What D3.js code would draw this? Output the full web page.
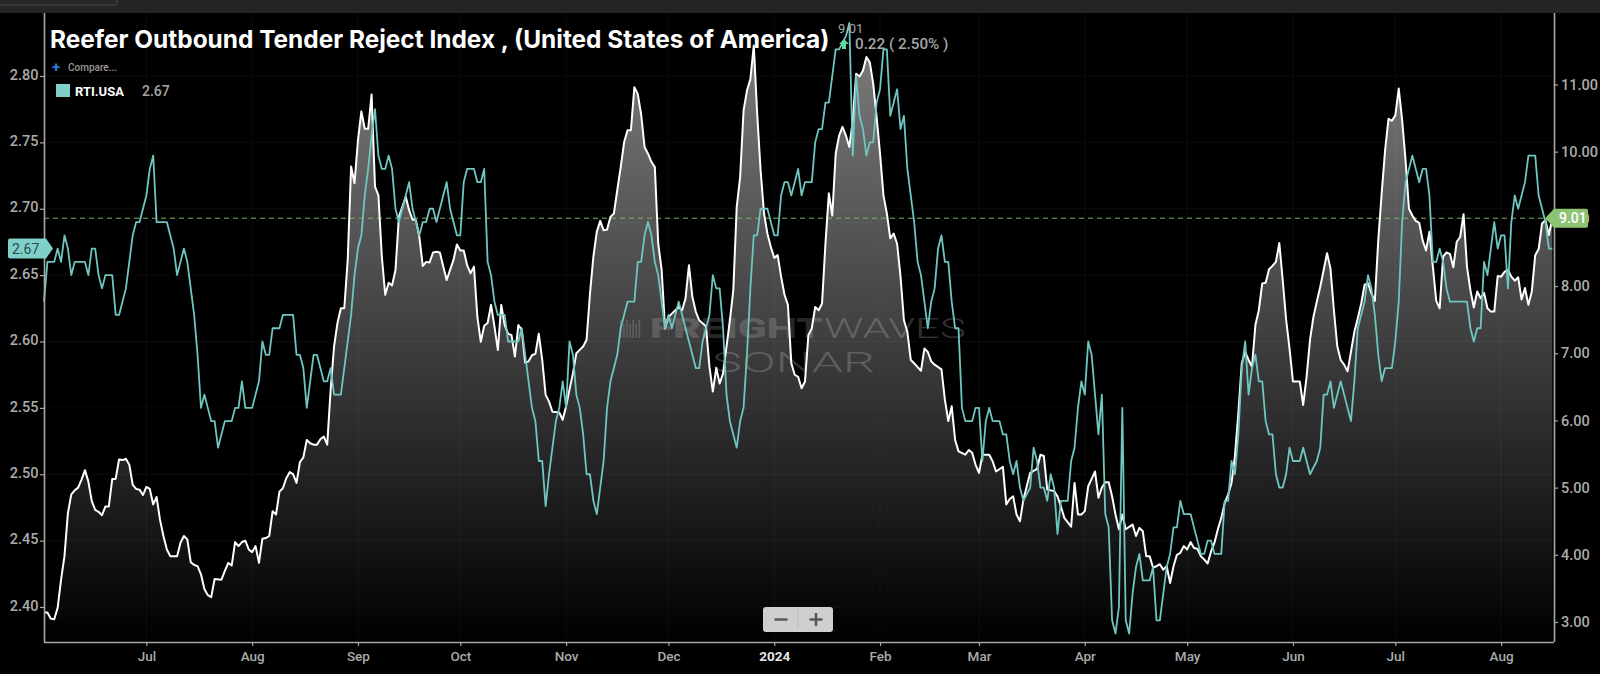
<!DOCTYPE html>
<html><head><meta charset="utf-8">
<script src="https://cdn.jsdelivr.net/npm/d3@7/dist/d3.min.js"></script>
<style>html,body{margin:0;padding:0;background:#000;overflow:hidden}svg{display:block}text{font-family:Roboto,sans-serif}</style>
</head><body><svg id="c" width="1600" height="674"></svg>
<script>
const titleText = "Reefer Outbound Tender Reject Index , (United States of America)";
const seriesName = "RTI.USA";
const startDate = new Date(Date.UTC(2023, 5, 1));
const leftTicks = [2.40, 2.45, 2.50, 2.55, 2.60, 2.65, 2.70, 2.75, 2.80];
const rightTicks = [3, 4, 5, 6, 7, 8, 9, 10, 11];
const monthTicks = ["2023-07-01","2023-08-01","2023-09-01","2023-10-01","2023-11-01","2023-12-01","2024-01-01","2024-02-01","2024-03-01","2024-04-01","2024-05-01","2024-06-01","2024-07-01","2024-08-01"];
const lastTeal = 2.67, lastWhite = 9.01, changeAbs = "0.22", changePct = "( 2.50% )";

// [days since 1 Jun 2023, RTI.USA on the left axis]
const tealPoints = [[0,2.63],[1,2.66],[3,2.66],[4,2.67],[5,2.66],[6,2.68],[7,2.67],[8,2.65],[9,2.66],[12,2.66],[13,2.65],[14,2.67],[15,2.67],[16,2.65],[17,2.64],[18,2.65],[20,2.65],[21,2.62],[22,2.62],[24,2.64],[25,2.66],[26,2.68],[27,2.69],[28,2.69],[30,2.71],[31,2.73],[32,2.74],[33,2.69],[36,2.69],[38,2.67],[39,2.65],[41,2.67],[42,2.66],[43,2.64],[44,2.62],[45,2.59],[46,2.55],[47,2.56],[49,2.54],[50,2.54],[51,2.52],[53,2.54],[55,2.54],[56,2.55],[57,2.55],[58,2.57],[59,2.55],[61,2.55],[63,2.57],[64,2.60],[65,2.59],[66,2.59],[67,2.61],[69,2.61],[70,2.62],[73,2.62],[74,2.59],[75,2.59],[76,2.58],[77,2.55],[79,2.59],[80,2.59],[82,2.57],[83,2.57],[84,2.58],[85,2.56],[87,2.56],[90,2.62],[91,2.65],[92,2.67],[93,2.68],[94,2.71],[95,2.73],[96,2.755],[97,2.775],[98,2.74],[99,2.73],[100,2.73],[101,2.74],[102,2.73],[103,2.70],[104,2.69],[105,2.70],[106,2.71],[107,2.72],[108,2.70],[109,2.69],[110,2.68],[111,2.69],[112,2.69],[113,2.70],[114,2.70],[115,2.69],[116,2.70],[117,2.71],[118,2.72],[119,2.70],[120,2.69],[121,2.68],[122,2.68],[123,2.72],[124,2.73],[126,2.73],[127,2.72],[128,2.72],[129,2.73],[130,2.66],[131,2.65],[132,2.63],[133,2.62],[135,2.62],[136,2.60],[139,2.60],[140,2.61],[141,2.59],[142,2.57],[143,2.55],[144,2.54],[145,2.51],[146,2.51],[147,2.476],[148,2.50],[149,2.52],[150,2.54],[151,2.55],[152,2.57],[153,2.55],[154,2.60],[155,2.59],[156,2.56],[157,2.55],[158,2.53],[159,2.50],[160,2.50],[161,2.48],[162,2.47],[163,2.49],[164,2.51],[165,2.55],[166,2.57],[167,2.58],[168,2.59],[169,2.61],[170,2.62],[171,2.63],[173,2.63],[174,2.66],[175,2.66],[176,2.68],[177,2.69],[178,2.68],[179,2.66],[180,2.65],[181,2.63],[182,2.61],[183,2.62],[184,2.61],[185,2.62],[186,2.63],[187,2.62],[188,2.61],[189,2.60],[190,2.59],[191,2.58],[192,2.58],[193,2.60],[194,2.61],[195,2.62],[196,2.65],[197,2.64],[198,2.64],[199,2.61],[200,2.56],[201,2.54],[202,2.53],[203,2.52],[204,2.54],[205,2.55],[206,2.59],[207,2.64],[208,2.68],[209,2.68],[210,2.70],[212,2.70],[213,2.69],[214,2.68],[215,2.68],[216,2.71],[217,2.72],[218,2.72],[219,2.71],[221,2.73],[222,2.71],[223,2.72],[225,2.72],[226,2.75],[227,2.76],[228,2.76],[229,2.78],[230,2.78],[231,2.80],[232,2.82],[233,2.82],[234,2.825],[235,2.83],[236,2.84],[237,2.74],[238,2.80],[239,2.77],[240,2.76],[241,2.74],[242,2.75],[243,2.75],[244,2.78],[245,2.79],[246,2.82],[247,2.82],[248,2.77],[249,2.78],[250,2.79],[251,2.76],[252,2.77],[253,2.73],[254,2.71],[255,2.69],[256,2.66],[257,2.65],[258,2.63],[259,2.61],[260,2.63],[261,2.64],[262,2.67],[263,2.68],[264,2.66],[265,2.66],[266,2.63],[267,2.61],[268,2.61],[269,2.55],[270,2.54],[272,2.54],[273,2.55],[274,2.55],[275,2.51],[276,2.54],[277,2.55],[278,2.54],[280,2.54],[281,2.53],[282,2.53],[283,2.51],[284,2.50],[285,2.51],[286,2.49],[287,2.48],[289,2.49],[290,2.52],[291,2.51],[292,2.49],[293,2.49],[294,2.48],[295,2.50],[296,2.49],[297,2.455],[298,2.48],[300,2.48],[301,2.51],[302,2.52],[303,2.55],[304,2.57],[305,2.56],[306,2.60],[307,2.59],[308,2.56],[309,2.53],[310,2.56],[311,2.47],[312,2.46],[313,2.39],[314,2.38],[315,2.40],[316,2.55],[317,2.39],[318,2.38],[319,2.41],[320,2.43],[321,2.44],[322,2.42],[324,2.42],[325,2.43],[326,2.39],[327,2.39],[328,2.41],[329,2.43],[330,2.44],[331,2.46],[332,2.46],[333,2.48],[334,2.47],[336,2.47],[337,2.46],[338,2.45],[339,2.44],[340,2.44],[341,2.45],[342,2.45],[343,2.44],[345,2.44],[346,2.48],[347,2.48],[348,2.51],[349,2.50],[350,2.53],[351,2.58],[352,2.60],[353,2.56],[354,2.58],[355,2.59],[356,2.57],[357,2.57],[358,2.54],[359,2.53],[360,2.53],[361,2.50],[362,2.49],[363,2.49],[364,2.50],[365,2.52],[366,2.51],[368,2.51],[369,2.52],[370,2.51],[371,2.50],[373,2.51],[374,2.52],[375,2.56],[376,2.56],[377,2.57],[378,2.55],[380,2.57],[382,2.55],[383,2.54],[384,2.57],[385,2.61],[386,2.62],[387,2.63],[388,2.65],[389,2.64],[390,2.62],[391,2.59],[392,2.57],[393,2.58],[395,2.58],[396,2.60],[397,2.63],[398,2.69],[399,2.72],[400,2.73],[401,2.74],[402,2.73],[403,2.72],[404,2.73],[405,2.73],[406,2.71],[407,2.66],[408,2.66],[409,2.67],[410,2.66],[411,2.64],[412,2.63],[417,2.63],[418,2.61],[419,2.60],[420,2.61],[421,2.61],[422,2.66],[423,2.65],[424,2.67],[425,2.69],[426,2.67],[427,2.68],[428,2.68],[429,2.64],[430,2.69],[431,2.71],[432,2.70],[433,2.71],[434,2.72],[435,2.74],[437,2.74],[438,2.71],[439,2.70],[440,2.69],[441,2.67],[442,2.67]];

// [days since 1 Jun 2023, index on the right axis]
const whitePoints = [[0,3.14],[1,3.14],[2,3.05],[3,3.04],[4,3.21],[5,3.63],[6,3.98],[7,4.62],[8,4.90],[9,4.96],[10,5.00],[11,5.12],[12,5.26],[13,5.09],[14,4.80],[15,4.67],[16,4.64],[17,4.59],[18,4.72],[19,4.72],[20,5.13],[21,5.13],[22,5.42],[23,5.41],[24,5.43],[25,5.34],[26,5.04],[27,4.98],[28,4.97],[29,4.89],[30,5.01],[31,4.98],[32,4.75],[33,4.86],[34,4.52],[35,4.28],[36,4.08],[37,3.98],[39,3.98],[40,4.18],[41,4.28],[42,4.23],[43,3.89],[44,3.85],[45,3.83],[46,3.71],[47,3.49],[48,3.40],[49,3.37],[50,3.64],[52,3.63],[53,3.76],[54,3.88],[55,3.84],[56,4.19],[57,4.13],[58,4.19],[59,4.21],[60,4.08],[61,4.04],[62,4.13],[63,3.88],[64,4.24],[65,4.25],[66,4.28],[67,4.65],[68,4.60],[69,4.94],[70,4.99],[71,5.14],[72,5.23],[73,5.20],[74,5.07],[75,5.38],[76,5.45],[77,5.71],[78,5.66],[79,5.64],[80,5.64],[81,5.72],[82,5.76],[83,5.64],[84,6.46],[85,7.10],[86,7.45],[87,7.67],[88,7.67],[89,8.39],[90,9.78],[91,9.53],[92,10.17],[93,10.60],[94,10.34],[95,10.34],[96,10.85],[97,9.48],[98,9.35],[99,8.44],[100,7.87],[101,8.05],[102,8.01],[103,8.24],[104,9.03],[105,9.18],[106,9.33],[107,9.13],[108,8.99],[109,8.98],[110,8.73],[111,8.30],[112,8.36],[113,8.35],[114,8.50],[115,8.51],[116,8.50],[117,8.29],[118,8.09],[119,8.24],[120,8.39],[121,8.62],[122,8.53],[123,8.53],[124,8.31],[125,8.19],[126,8.29],[127,7.54],[128,7.17],[129,7.41],[130,7.45],[131,7.72],[132,7.40],[133,7.05],[134,7.72],[135,7.42],[136,7.29],[137,7.27],[138,6.95],[139,7.42],[140,7.35],[141,6.86],[142,6.88],[143,6.97],[144,6.99],[145,7.29],[146,6.90],[147,6.38],[148,6.28],[149,6.13],[151,6.12],[152,6.01],[153,6.21],[154,6.46],[155,6.70],[156,7.00],[157,7.05],[158,7.10],[159,7.20],[160,7.89],[161,8.44],[162,8.81],[163,8.97],[164,8.83],[165,8.84],[166,9.03],[167,9.08],[168,9.43],[169,9.77],[170,10.14],[171,10.32],[172,10.32],[173,10.96],[174,10.86],[175,10.55],[176,10.07],[177,9.97],[178,9.85],[179,9.77],[180,8.63],[181,8.24],[182,7.37],[183,7.54],[184,7.59],[185,7.64],[186,7.69],[187,7.64],[188,7.82],[189,8.31],[190,7.84],[191,7.62],[192,7.49],[194,7.40],[195,6.80],[196,6.43],[197,6.78],[198,6.55],[199,6.70],[201,7.49],[202,7.94],[203,9.18],[204,9.62],[205,10.61],[206,10.91],[207,11.08],[208,11.58],[209,10.56],[210,9.72],[211,9.08],[212,8.78],[213,8.58],[214,8.42],[215,8.46],[216,8.14],[217,7.87],[218,7.72],[219,6.85],[220,6.68],[221,6.65],[222,6.48],[223,6.58],[224,7.27],[225,7.37],[226,7.69],[227,7.64],[228,7.74],[229,8.63],[230,9.38],[231,9.05],[232,9.97],[233,10.24],[234,10.37],[235,10.24],[236,10.07],[237,10.46],[238,11.16],[239,11.12],[240,11.21],[241,11.41],[242,11.33],[243,11.01],[244,10.51],[245,9.97],[246,9.35],[247,9.08],[248,8.71],[249,8.78],[250,8.63],[251,8.14],[252,7.49],[253,7.32],[254,6.90],[255,6.85],[257,6.74],[258,7.07],[259,7.02],[260,6.88],[261,6.83],[263,6.76],[264,6.31],[265,5.99],[266,6.21],[267,5.71],[268,5.54],[270,5.49],[271,5.56],[272,5.52],[273,5.34],[274,5.22],[275,5.49],[277,5.49],[278,5.39],[279,5.24],[281,5.31],[282,4.75],[283,4.83],[284,4.87],[285,4.60],[286,4.50],[287,4.82],[288,5.02],[289,5.22],[291,5.28],[292,5.49],[293,5.47],[294,4.97],[296,4.95],[297,4.87],[298,4.72],[299,4.55],[301,4.42],[302,5.07],[303,4.60],[304,4.60],[305,4.65],[306,5.02],[307,5.13],[308,5.24],[309,4.85],[310,5.00],[311,5.08],[312,5.08],[313,4.87],[314,4.60],[315,4.38],[316,4.60],[317,4.38],[319,4.45],[320,4.28],[321,4.40],[322,4.35],[323,3.98],[324,3.98],[325,3.81],[326,3.83],[327,3.86],[328,3.78],[329,3.83],[330,3.58],[331,3.83],[332,4.00],[333,4.03],[334,4.13],[335,4.08],[336,4.19],[337,4.10],[338,4.09],[339,3.98],[340,3.93],[341,3.87],[342,4.05],[343,4.18],[344,4.38],[345,4.55],[346,4.77],[347,4.90],[348,5.07],[349,5.47],[350,6.11],[351,6.85],[352,7.02],[353,6.90],[354,6.80],[355,7.42],[356,7.64],[357,8.04],[358,8.05],[359,8.25],[360,8.30],[361,8.36],[362,8.64],[363,8.09],[364,7.50],[365,7.07],[366,6.58],[368,6.58],[369,6.23],[370,6.65],[371,7.20],[372,7.54],[373,7.77],[374,7.99],[375,8.24],[376,8.49],[377,8.26],[378,7.64],[379,7.10],[380,6.90],[381,6.83],[382,6.73],[383,7.02],[384,7.32],[385,7.52],[386,7.74],[387,8.02],[388,8.04],[389,7.89],[390,7.78],[391,8.68],[392,9.38],[393,10.02],[394,10.49],[395,10.46],[396,10.54],[397,10.94],[398,10.47],[399,9.87],[400,9.15],[401,9.05],[402,8.97],[403,8.94],[404,8.68],[405,8.53],[406,8.81],[407,8.29],[408,7.78],[409,7.67],[410,8.44],[411,8.50],[412,8.48],[413,8.28],[414,8.66],[415,8.73],[416,9.07],[417,8.29],[418,7.94],[419,7.68],[420,7.92],[421,7.82],[422,7.90],[423,7.67],[424,7.62],[425,7.62],[426,8.15],[427,8.14],[428,8.21],[429,8.24],[430,8.14],[431,8.08],[432,8.13],[433,7.80],[434,7.97],[435,7.72],[436,7.92],[437,8.46],[438,8.55],[439,8.93],[440,8.98],[441,8.76],[442,9.01]];

const W = 1600, H = 674;
const plot = {l: 44, r: 1554, t: 13, b: 642};
const toDate = d => d3.utcDay.offset(startDate, d);
const x = d3.scaleUtc().domain([startDate, new Date(Date.UTC(2024, 7, 16, 12))]).range([plot.l, plot.r]);
const yL = d3.scaleLinear().domain([2.40, 2.80]).range([607, 76]);
const yR = d3.scaleLinear().domain([3, 11]).range([622, 84.5]);
const svg = d3.select("#c");
svg.append("rect").attr("width", W).attr("height", H).attr("fill", "#000");
const defs = svg.append("defs");
const grad = defs.append("linearGradient").attr("id", "areaFill").attr("gradientUnits", "userSpaceOnUse")
  .attr("x1", 0).attr("x2", 0).attr("y1", 40).attr("y2", plot.b);
grad.append("stop").attr("offset", 0).attr("stop-color", "#7c7c7c");
grad.append("stop").attr("offset", 1).attr("stop-color", "#000");

// top bar of the app
svg.append("rect").attr("width", W).attr("height", plot.t).attr("fill", "#242424");
svg.append("rect").attr("x", -4).attr("y", -6).attr("width", 121).attr("height", 11).attr("rx", 2).attr("fill", "#262626").attr("stroke", "#4a4a4a");

// area
const area = d3.area().x(d => x(toDate(d[0]))).y0(plot.b).y1(d => yR(d[1]));
svg.append("path").datum(whitePoints).attr("d", area).attr("fill", "url(#areaFill)");

// faint grid
const gridG = svg.append("g").attr("stroke", "#fff").attr("stroke-opacity", 0.045).attr("stroke-width", 1);
gridG.selectAll("line.h").data(leftTicks).join("line").attr("class", "h")
  .attr("x1", plot.l).attr("x2", plot.r).attr("y1", d => yL(d)).attr("y2", d => yL(d));
gridG.selectAll("line.v").data(monthTicks).join("line").attr("class", "v")
  .attr("y1", plot.t).attr("y2", plot.b).attr("x1", d => x(new Date(d))).attr("x2", d => x(new Date(d)));

// watermark
const wm = svg.append("g").attr("fill", "#fff");
wm.append("text").attr("x", 650).attr("y", 338).attr("font-size", 28).attr("font-weight", 900).attr("fill-opacity", 0.17)
  .attr("textLength", 173).attr("lengthAdjust", "spacingAndGlyphs").text("FREIGHT");
wm.append("text").attr("x", 824).attr("y", 338).attr("font-size", 28).attr("font-weight", 300).attr("fill-opacity", 0.2)
  .attr("textLength", 142).attr("lengthAdjust", "spacingAndGlyphs").text("WAVES");
wm.append("text").attr("x", 712).attr("y", 372).attr("font-size", 28).attr("font-weight", 300).attr("fill-opacity", 0.2)
  .attr("textLength", 163).attr("lengthAdjust", "spacingAndGlyphs").text("SONAR");
wm.selectAll("rect").data(d3.range(7)).join("rect").attr("x", i => 620 + i * 3.1).attr("y", i => 320 + (i % 2) * 4)
  .attr("width", 1.6).attr("height", i => 18 - (i % 2) * 4).attr("fill-opacity", 0.17);

// dashed reference at last value
svg.append("line").attr("x1", plot.l).attr("x2", 1546).attr("y1", yR(lastWhite)).attr("y2", yR(lastWhite))
  .attr("stroke", "#7fb35f").attr("stroke-width", 1).attr("stroke-dasharray", "5,4");

// lines
const whiteLine = d3.line().x(d => x(toDate(d[0]))).y(d => yR(d[1]));
const tealLine = d3.line().x(d => x(toDate(d[0]))).y(d => yL(d[1]));
svg.append("path").datum(whitePoints).attr("d", whiteLine).attr("fill", "none").attr("stroke", "#fff").attr("stroke-width", 2).attr("stroke-linejoin", "round");
svg.append("path").datum(tealPoints).attr("d", tealLine).attr("fill", "none").attr("stroke", "#6fc6c0").attr("stroke-width", 1.8).attr("stroke-linejoin", "round");

// axes
const axisColor = "#a8a8a8";
function styleAxis(g, size) {
  g.selectAll(".domain").attr("stroke", axisColor).attr("stroke-width", 1.6);
  g.selectAll(".tick line").attr("stroke", axisColor).attr("stroke-width", 1.2);
  g.selectAll(".tick text").attr("fill", "#ababab").attr("font-size", size).attr("font-weight", 500).attr("font-family", "Roboto,sans-serif");
}
const axL = svg.append("g").attr("transform", `translate(${plot.l},0)`).call(
  d3.axisLeft(yL).tickValues(leftTicks).tickFormat(d3.format(".2f")).tickSize(4).tickSizeOuter(0).tickPadding(1.5));
axL.select(".domain").attr("d", `M0.5,${plot.t}V${plot.b}`);
styleAxis(axL, 14.5);
axL.selectAll(".tick text").attr("dy", "0.22em");
const axR = svg.append("g").attr("transform", `translate(${plot.r},0)`).call(
  d3.axisRight(yR).tickValues(rightTicks).tickFormat(d3.format(".2f")).tickSize(4).tickSizeOuter(0).tickPadding(3));
axR.select(".domain").attr("d", `M0.5,${plot.t}V${plot.b}`);
styleAxis(axR, 14.5);
const axB = svg.append("g").attr("transform", `translate(0,${plot.b})`).call(
  d3.axisBottom(x).tickValues(monthTicks.map(d => new Date(d))).tickSize(4).tickSizeOuter(0).tickPadding(5)
    .tickFormat(d => d.getUTCMonth() === 0 ? String(d.getUTCFullYear()) : d3.utcFormat("%b")(d)));
axB.select(".domain").attr("d", `M${plot.l},0.5H${plot.r}`);
styleAxis(axB, 13.5);
axB.selectAll(".tick text").filter(d => d.getUTCMonth() === 0).attr("fill", "#e6e6e6").attr("font-weight", 700);

// title and legend
const titleNode = svg.append("text").attr("x", 50).attr("y", 47.5).attr("fill", "#fff").attr("font-size", 25).attr("font-weight", 700)
  .style("font-family", "Inter,Roboto,sans-serif").text(titleText);
titleNode.attr("font-size", 25 * 780 / titleNode.node().getComputedTextLength());
svg.append("text").attr("x", 52).attr("y", 72).attr("fill", "#2f7fd6").attr("font-size", 15).attr("font-weight", 700).text("+");
svg.append("text").attr("x", 68).attr("y", 71).attr("fill", "#9a9a9a").attr("font-size", 10).attr("font-weight", 500).text("Compare...");
svg.append("rect").attr("x", 56).attr("y", 84).attr("width", 14).attr("height", 13).attr("fill", "#7fd0c8");
svg.append("text").attr("x", 75).attr("y", 95.5).attr("fill", "#fff").attr("font-size", 13).attr("font-weight", 700).text(seriesName);
svg.append("text").attr("x", 142).attr("y", 95.5).attr("fill", "#a6a6a6").attr("font-size", 14).attr("font-weight", 500).text(d3.format(".2f")(lastTeal));

// change read-out
svg.append("text").attr("x", 838).attr("y", 33).attr("fill", "#a6a6a6").attr("font-size", 13).text(d3.format(".2f")(lastWhite));
svg.append("path").attr("d", "M844,39l5,5h-3v5h-4v-5h-3z").attr("fill", "#5fd9a0");
svg.append("text").attr("x", 855).attr("y", 49.2).attr("fill", "#a6a6a6").attr("font-size", 15.2).attr("font-weight", 500).text(changeAbs + " " + changePct);

// value tags
const ty = yL(lastTeal);
svg.append("path").attr("d", `M10,${ty-10}H46L53,${ty}L46,${ty+10}H10Q8,${ty+10} 8,${ty+8}V${ty-8}Q8,${ty-10} 10,${ty-10}Z`).attr("fill", "#7fd0c8");
svg.append("text").attr("x", 12).attr("y", ty + 5).attr("fill", "#2d4a48").attr("font-size", 14).text(d3.format(".2f")(lastTeal));
const gy = yR(lastWhite);
svg.append("path").attr("d", `M1545,${gy}L1554,${gy-9.5}H1586Q1588,${gy-9.5} 1588,${gy-7.5}V${gy+7.5}Q1588,${gy+9.5} 1586,${gy+9.5}H1554Z`).attr("fill", "#8cc474");
svg.append("text").attr("x", 1559).attr("y", gy + 5).attr("fill", "#fff").attr("font-size", 14).attr("font-weight", 500).text(d3.format(".2f")(lastWhite));

// zoom control
const zc = svg.append("g");
zc.append("rect").attr("x", 763).attr("y", 607).attr("width", 70).attr("height", 25).attr("rx", 3).attr("fill", "#cfcfcf");
zc.append("line").attr("x1", 798).attr("x2", 798).attr("y1", 610).attr("y2", 629).attr("stroke", "#bdbdbd");
zc.append("rect").attr("x", 774.5).attr("y", 618.3).attr("width", 13).attr("height", 2.4).attr("fill", "#555");
zc.append("rect").attr("x", 809.5).attr("y", 618.3).attr("width", 13).attr("height", 2.4).attr("fill", "#555");
zc.append("rect").attr("x", 814.8).attr("y", 613).attr("width", 2.4).attr("height", 13).attr("fill", "#555");
</script></body></html>
